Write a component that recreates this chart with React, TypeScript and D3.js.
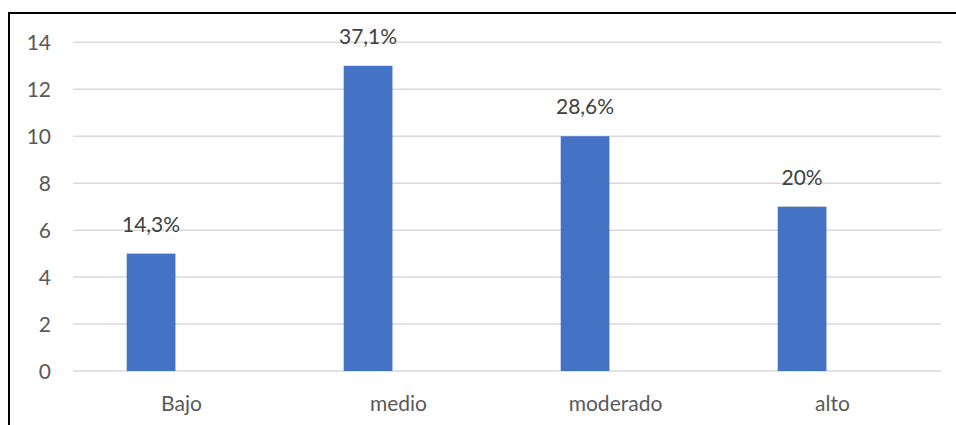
import React from "react";
import * as d3 from "d3";

const categories = ["Bajo", "medio", "moderado", "alto"];
const values = [5, 13, 10, 7];
const labels = ["14,3%", "37,1%", "28,6%", "20%"];
const yTicks = [0, 2, 4, 6, 8, 10, 12, 14];

export default function App() {
  const W = 956, H = 425;
  const left = 73, right = 941, top = 42.3, bottom = 371;
  const x = d3.scaleBand<string>().domain(categories).range([left, right]).padding(0);
  const y = d3.scaleLinear().domain([0, 14]).range([bottom, top]);
  const bw = x.bandwidth();
  const font = "Lato, 'Open Sans', sans-serif";
  const fs = 21;
  return (
    <svg width={W} height={H} style={{ position: "absolute", left: 0, top: 0, background: "#fff" }}>
      <rect x={0} y={0} width={W} height={H} fill="#fff" />
      <line x1={9} x2={W} y1={13} y2={13} stroke="#000" strokeWidth={2} />
      <line x1={9} x2={9} y1={12} y2={H} stroke="#000" strokeWidth={2} />
      {yTicks.map((t) => (
        <g key={t}>
          <line x1={left} x2={right} y1={y(t)} y2={y(t)} stroke="#d9d9d9" strokeWidth={1.5} />
          <text x={51} y={y(t) + 7.5} textAnchor="end" fontFamily={font} fontSize={fs} fill="#595959">
            {t}
          </text>
        </g>
      ))}
      {categories.map((c, i) => {
        const x0 = (x(c) as number) + bw * 0.2475;
        const w = bw * 0.2245;
        return (
          <g key={c}>
            <rect x={x0} y={y(values[i])} width={w} height={y(0) - y(values[i])} fill="#4472C4" />
            <text x={x0 + w / 2} y={y(values[i]) - 22} textAnchor="middle" fontFamily={font} fontSize={fs} fill="#404040">
              {labels[i]}
            </text>
            <text x={(x(c) as number) + bw / 2} y={410.5} textAnchor="middle" fontFamily={font} fontSize={fs} fill="#595959">
              {c}
            </text>
          </g>
        );
      })}
    </svg>
  );
}
